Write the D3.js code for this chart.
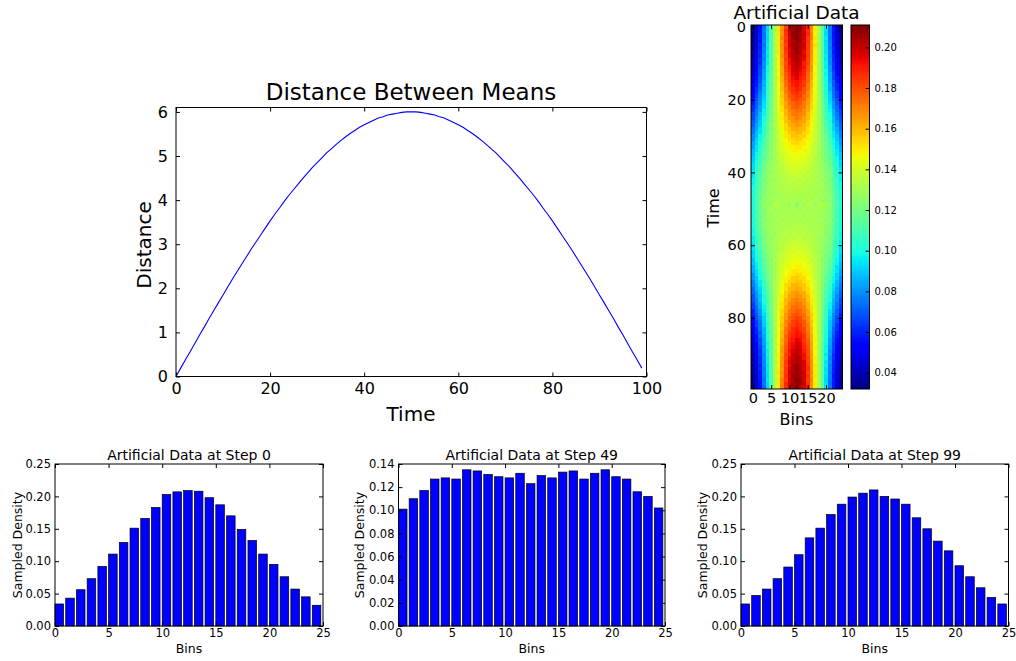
<!DOCTYPE html>
<html>
<head>
<meta charset="utf-8">
<script src="https://cdn.jsdelivr.net/npm/d3@7"></script>
<style>
  body { margin: 0; background: #fff; }
  svg { font-family: "DejaVu Sans", sans-serif; }
</style>
</head>
<body>
<svg id="fig" width="1016" height="661"></svg>
<script>
// distance between the two means, one value per time step (0..99)
const distance = [
  0, 0.19, 0.38, 0.56, 0.75, 0.94, 1.12, 1.31, 1.49, 1.67, 1.85, 2.03, 2.21, 2.38, 2.55, 2.72, 2.89, 3.05, 3.21, 3.37,
  3.53, 3.68, 3.82, 3.97, 4.11, 4.24, 4.37, 4.50, 4.62, 4.74, 4.85, 4.96, 5.07, 5.16, 5.26, 5.35, 5.43, 5.51, 5.58, 5.65,
  5.71, 5.76, 5.81, 5.86, 5.89, 5.93, 5.95, 5.97, 5.99, 6.00,
  6.00, 6.00, 5.99, 5.97, 5.95, 5.93, 5.89, 5.86, 5.81, 5.76, 5.71, 5.65, 5.58, 5.51, 5.43, 5.35, 5.26, 5.16, 5.07, 4.96,
  4.85, 4.74, 4.62, 4.50, 4.37, 4.24, 4.11, 3.97, 3.82, 3.68, 3.53, 3.37, 3.21, 3.05, 2.89, 2.72, 2.55, 2.38, 2.21, 2.03,
  1.85, 1.67, 1.49, 1.31, 1.12, 0.94, 0.75, 0.56, 0.38, 0.19
];

// sampled density per bin (25 bins) at three time steps
const step0 = [0.034, 0.043, 0.056, 0.073, 0.092, 0.111, 0.129, 0.151, 0.166, 0.183, 0.203, 0.207, 0.209,
  0.208, 0.198, 0.187, 0.170, 0.149, 0.132, 0.111, 0.095, 0.076, 0.057, 0.045, 0.032];
const step49 = [0.101, 0.110, 0.117, 0.127, 0.128, 0.127, 0.135, 0.134, 0.131, 0.129, 0.128, 0.132, 0.123,
  0.130, 0.128, 0.133, 0.134, 0.127, 0.132, 0.135, 0.129, 0.127, 0.116, 0.112, 0.102];
const step99 = [0.034, 0.047, 0.057, 0.073, 0.091, 0.110, 0.136, 0.151, 0.172, 0.188, 0.199, 0.205, 0.210,
  0.200, 0.196, 0.188, 0.167, 0.150, 0.131, 0.116, 0.093, 0.076, 0.059, 0.044, 0.034];

// artificial data: rows = time 0..99, columns = bins 0..24 (density x 1000)
const heatRows = [
  [34,43,56,73,92,111,129,151,166,183,203,207,209,208,198,187,170,149,132,111,95,76,57,45,32],
  [35,44,57,76,91,113,130,152,168,187,201,205,211,207,197,187,168,150,134,111,94,74,59,44,33],
  [33,46,58,74,94,110,133,151,167,185,200,207,208,204,199,188,170,149,131,113,92,76,57,46,35],
  [36,45,59,75,92,114,130,149,170,184,197,206,210,203,198,184,171,151,130,111,95,74,58,47,34],
  [34,47,57,77,93,111,132,151,166,186,198,203,207,206,196,186,167,149,133,112,93,76,59,45,36],
  [37,46,60,75,95,113,129,150,169,183,198,205,206,203,199,184,168,152,130,113,94,77,58,48,35],
  [35,48,59,77,93,112,133,149,167,186,195,204,208,202,197,185,166,150,132,112,95,75,61,46,37],
  [38,47,61,76,96,112,130,151,166,184,196,201,207,203,194,182,168,149,131,114,94,78,59,49,36],
  [37,50,60,79,94,114,132,148,168,182,195,202,203,200,196,184,166,150,130,112,96,77,62,48,39],
  [40,49,63,77,97,112,130,150,165,183,192,201,205,199,194,181,167,148,132,114,95,79,61,51,38],
  [41,52,62,80,95,115,130,148,166,180,193,197,203,199,190,182,164,150,131,113,97,78,64,50,39],
  [41,54,65,79,98,113,132,147,164,181,190,198,201,196,192,179,166,147,130,115,96,81,63,52,43],
  [44,53,67,82,97,115,130,149,163,180,188,196,199,194,190,178,165,147,132,113,99,80,65,55,42],
  [44,56,66,83,99,114,132,146,164,178,187,195,198,193,189,176,162,148,130,116,97,83,68,54,46],
  [47,56,69,83,100,116,130,148,161,177,185,193,196,191,187,175,163,146,132,114,100,83,67,58,45],
  [47,59,69,86,99,117,132,145,162,174,186,191,192,189,184,176,160,147,130,117,101,84,71,57,49],
  [51,59,72,85,102,115,130,147,159,174,182,189,192,187,184,172,161,145,132,115,100,87,70,61,49],
  [50,63,72,88,101,118,132,144,160,171,182,185,190,187,180,173,158,146,130,118,103,86,74,61,52],
  [54,63,76,88,104,116,130,146,157,171,178,185,187,183,180,169,159,144,132,116,102,90,74,65,52],
  [54,67,77,89,105,117,132,143,158,168,178,181,185,183,176,170,156,145,130,119,103,91,75,65,56],
  [58,67,79,91,106,119,130,145,155,168,174,181,183,179,176,166,157,143,132,117,106,91,77,69,56],
  [58,71,79,94,105,120,132,142,156,164,174,176,180,178,172,166,154,144,130,120,105,94,81,69,60],
  [62,71,83,94,108,118,130,144,153,165,170,176,178,174,172,163,155,142,132,118,108,96,81,73,60],
  [63,75,83,97,107,121,132,141,153,161,170,172,175,174,168,163,151,143,130,121,107,97,85,73,65],
  [67,75,87,97,110,119,130,142,150,161,166,172,173,170,168,159,152,140,132,119,110,99,85,77,65],
  [67,79,87,101,109,122,132,140,151,158,166,167,171,169,164,160,149,142,130,122,109,101,89,77,69],
  [71,79,90,100,112,120,130,141,148,158,162,167,168,165,164,156,150,139,132,120,112,100,88,81,69],
  [71,83,90,104,111,123,132,139,149,154,162,163,166,165,160,156,147,141,130,123,111,104,92,81,73],
  [75,83,94,103,114,121,130,140,145,154,157,162,163,160,159,152,147,138,132,121,114,103,92,85,73],
  [75,87,94,107,114,124,132,137,146,151,157,158,161,160,155,153,144,139,130,124,114,107,96,85,77],
  [79,87,98,106,117,122,130,139,143,151,153,158,158,156,155,149,145,137,132,122,117,106,96,89,77],
  [79,91,98,110,116,125,131,136,144,147,153,154,156,156,151,149,142,138,129,125,116,110,100,89,81],
  [83,91,101,109,119,123,129,138,141,148,149,153,154,151,151,146,143,136,131,123,119,109,99,93,81],
  [83,95,101,113,118,126,131,135,142,144,149,149,151,151,147,146,140,137,129,126,118,113,103,93,85],
  [87,94,105,112,121,124,129,137,139,145,146,149,149,147,148,143,141,135,131,124,121,112,103,96,85],
  [87,98,104,115,119,127,131,134,140,141,146,145,147,147,144,143,138,136,129,127,119,115,106,96,89],
  [90,98,108,114,122,125,129,136,137,142,142,145,145,143,144,140,139,134,131,125,122,114,106,100,88],
  [90,101,107,118,121,128,131,133,138,139,143,142,143,144,141,141,136,135,129,128,121,118,109,99,92],
  [93,101,110,117,124,126,129,135,135,139,139,142,142,140,141,137,137,133,131,126,124,117,108,103,91],
  [93,104,110,120,123,128,131,132,136,136,140,139,140,141,138,138,134,134,129,128,123,120,112,102,95],
  [96,103,113,119,125,127,129,134,134,137,136,139,139,137,138,135,136,132,131,127,125,119,111,105,94],
  [95,106,112,122,124,129,131,132,135,134,137,136,137,138,135,136,133,134,129,129,124,122,114,104,97],
  [98,105,115,120,126,127,129,133,132,135,134,137,136,135,136,133,134,131,131,127,126,120,113,107,96],
  [97,108,114,123,125,130,131,131,134,133,135,134,135,136,133,135,132,133,129,130,125,123,116,106,99],
  [100,107,116,122,127,128,129,133,131,134,132,135,134,133,134,132,133,131,131,128,127,122,114,109,98],
  [99,110,115,124,126,130,131,130,133,131,134,132,133,134,132,133,131,132,129,130,126,124,117,108,101],
  [101,108,118,123,128,128,129,132,131,133,131,133,132,131,133,131,133,130,131,128,128,123,116,110,99],
  [100,111,116,125,126,130,131,130,132,131,133,130,132,132,131,133,130,132,129,130,126,125,118,109,102],
  [102,109,118,123,128,128,129,132,130,132,130,132,131,130,132,130,132,130,131,128,128,123,116,111,100],
  [101,110,117,127,128,127,135,134,131,129,128,132,123,130,128,133,134,127,132,135,129,127,116,112,102],
  [100,111,116,126,127,131,129,132,130,132,130,132,131,130,132,130,132,130,131,129,128,124,118,109,102],
  [102,109,118,124,128,129,131,130,132,131,132,130,131,132,130,131,132,131,130,129,127,125,117,110,100],
  [100,111,116,123,128,128,131,130,132,130,132,130,131,132,130,132,130,132,129,128,128,123,118,109,102],
  [102,109,118,125,126,130,129,132,130,133,131,132,132,130,133,131,132,130,131,130,126,125,116,111,100],
  [99,110,116,123,128,128,131,130,133,131,133,131,132,133,131,133,131,132,129,128,128,123,118,108,101],
  [101,108,117,124,126,130,129,132,131,133,132,134,133,132,134,131,133,130,131,130,126,124,115,110,99],
  [98,109,114,122,127,128,131,131,133,132,134,133,134,135,132,134,131,133,129,128,127,122,116,107,100],
  [99,106,116,123,125,130,129,133,132,135,133,136,135,134,135,133,134,131,131,130,125,123,114,108,97],
  [96,107,113,120,126,127,131,131,134,133,136,135,136,137,134,135,132,133,129,127,126,120,115,105,98],
  [97,104,114,122,124,129,129,134,133,136,135,138,137,136,137,134,135,132,131,129,124,122,112,106,95],
  [94,105,111,119,125,127,131,132,136,135,138,137,139,139,136,137,134,134,129,127,125,119,113,103,96],
  [95,102,112,120,123,128,129,134,134,138,138,141,140,139,140,136,136,132,131,128,123,120,110,104,93],
  [91,103,108,117,124,126,131,133,137,137,141,140,142,142,139,139,135,135,129,126,124,117,110,101,93],
  [92,99,109,118,121,128,129,135,136,141,141,144,143,142,143,139,138,133,131,128,121,118,107,101,90],
  [88,100,106,114,122,125,131,134,139,140,144,143,145,145,142,142,137,136,129,125,122,114,108,98,90],
  [89,96,106,115,119,127,129,136,138,143,144,147,147,145,146,141,140,134,131,127,119,115,104,98,87],
  [85,96,103,112,121,124,131,135,141,143,148,147,149,149,146,145,139,137,129,124,121,112,105,94,87],
  [85,93,103,113,118,126,129,137,140,146,147,151,151,149,149,144,142,135,131,126,118,113,101,95,83],
  [81,93,99,109,119,123,131,136,143,146,151,151,154,153,149,148,141,138,129,123,119,109,101,91,83],
  [81,89,100,110,116,125,129,138,142,149,151,156,156,154,153,147,144,136,131,125,116,110,98,91,79],
  [77,89,96,106,117,122,132,137,145,149,155,156,158,158,153,151,143,139,130,122,117,106,98,87,79],
  [77,85,96,107,114,124,130,139,144,153,155,160,161,158,157,151,146,137,132,124,114,107,94,87,75],
  [73,85,92,103,114,121,132,138,147,152,159,160,163,162,157,154,145,140,130,121,114,103,94,83,75],
  [73,81,92,104,111,123,130,141,147,156,160,165,166,163,162,154,149,139,132,123,111,104,90,83,71],
  [69,81,88,100,112,120,132,139,150,156,164,165,168,167,162,158,148,141,130,120,112,100,90,79,71],
  [69,77,89,101,109,122,130,142,149,160,164,169,171,167,166,158,151,140,132,122,109,101,87,79,67],
  [65,77,85,99,110,119,132,140,152,159,168,170,173,172,166,161,150,142,130,119,110,97,87,75,67],
  [65,73,85,97,107,121,130,143,151,163,168,174,175,172,170,161,153,141,132,121,107,97,83,75,63],
  [60,73,81,96,108,118,132,142,155,163,172,174,178,176,170,165,153,144,130,118,108,94,83,71,62],
  [60,69,81,94,105,120,130,144,154,166,172,178,180,176,174,164,156,142,132,120,105,94,79,71,58],
  [56,69,77,91,106,117,132,143,157,166,176,179,183,181,174,168,155,145,130,119,106,91,79,67,58],
  [56,65,75,91,103,119,130,145,156,170,176,183,185,181,178,168,158,143,132,117,105,89,77,67,54],
  [52,65,74,90,102,116,132,144,159,169,180,183,187,185,178,171,157,146,130,116,104,88,76,63,54],
  [52,61,74,86,103,118,130,146,158,173,180,187,190,185,182,171,160,144,132,118,101,88,72,63,50],
  [49,61,70,87,100,115,132,145,161,172,184,187,192,189,182,174,159,147,130,115,102,85,72,59,51],
  [49,57,71,84,101,117,130,147,160,176,184,189,192,191,186,174,162,145,132,117,99,86,69,59,47],
  [45,58,67,83,100,114,132,146,163,175,187,191,196,193,185,177,161,148,130,116,100,83,69,56,47],
  [46,54,68,83,97,116,130,148,162,176,189,193,198,195,187,178,164,146,132,114,99,83,66,56,44],
  [42,55,65,80,99,113,132,147,165,178,190,194,199,196,188,180,163,149,130,115,97,82,67,53,44],
  [43,52,63,81,96,115,130,147,166,179,192,196,201,198,190,181,164,147,132,113,98,79,65,54,41],
  [39,50,64,78,97,113,131,150,164,182,190,199,203,197,193,180,166,148,130,115,95,80,62,52,41],
  [38,51,61,79,95,114,132,148,167,181,194,199,205,201,192,183,165,150,130,112,97,77,63,49,40],
  [39,48,62,77,96,112,130,150,166,184,196,200,203,202,195,182,168,148,132,114,94,79,60,50,37],
  [36,49,59,78,94,114,131,149,168,182,194,203,207,201,196,184,166,151,130,112,96,76,61,47,38],
  [37,46,61,75,95,112,132,150,166,185,197,202,208,204,195,186,167,149,133,112,93,77,59,48,35],
  [35,48,58,77,94,113,130,152,168,184,199,203,206,205,198,183,169,150,129,113,95,75,60,46,37],
  [36,45,59,76,93,112,133,149,167,186,196,206,207,203,198,186,166,151,132,111,93,77,57,47,34],
  [34,47,58,74,95,111,130,151,171,184,198,203,210,206,197,184,170,149,130,114,92,75,59,45,36],
  [35,46,57,76,92,113,131,149,170,188,199,204,208,207,200,185,167,151,133,110,94,74,58,46,33],
  [34,47,57,73,91,110,136,151,172,188,199,205,210,200,196,188,167,150,131,116,93,76,59,44,34]
];

// tick labels
const timeTicks = [0, 20, 40, 60, 80, 100];
const distTicks = [0, 1, 2, 3, 4, 5, 6];
const heatTimeTicks = [0, 20, 40, 60, 80];
const heatBinTicks = [0, 5, 10, 15, 20];
const colorTicks = [0.04, 0.06, 0.08, 0.10, 0.12, 0.14, 0.16, 0.18, 0.20];
const binTicks = [0, 5, 10, 15, 20, 25];
const densTicksA = [0, 0.05, 0.10, 0.15, 0.20, 0.25];
const densTicksB = [0, 0.02, 0.04, 0.06, 0.08, 0.10, 0.12, 0.14];

const svg = d3.select("#fig");

// axes in the old matplotlib look: ticks inside on all four sides + black frame
function drawAxes(g, x, y, o) {
  const [xl, xr] = x.range();
  const [yb, yt] = y.range();
  const bottom = g.append("g").attr("transform", `translate(0,${yb})`)
    .call(d3.axisBottom(x).tickValues(o.xTicks).tickSize(-o.tick).tickSizeOuter(0)
      .tickPadding(o.xPad).tickFormat(o.xFmt || d3.format("d")));
  const left = g.append("g").attr("transform", `translate(${xl},0)`)
    .call(d3.axisLeft(y).tickValues(o.yTicks).tickSize(-o.tick).tickSizeOuter(0)
      .tickPadding(o.yPad).tickFormat(o.yFmt || d3.format("d")));
  g.append("g").attr("transform", `translate(0,${yt})`)
    .call(d3.axisTop(x).tickValues(o.xTicks).tickSize(-o.tick).tickSizeOuter(0).tickFormat(""));
  g.append("g").attr("transform", `translate(${xr},0)`)
    .call(d3.axisRight(y).tickValues(o.yTicks).tickSize(-o.tick).tickSizeOuter(0).tickFormat(""));
  g.selectAll(".domain").remove();
  g.selectAll(".tick line").attr("stroke", "#000");
  g.selectAll("g").attr("font-family", null).attr("font-size", null);
  bottom.selectAll("text").attr("font-size", o.font).attr("fill", "#000");
  left.selectAll("text").attr("font-size", o.font).attr("fill", "#000");
  g.append("rect")
    .attr("x", xl).attr("y", yt).attr("width", xr - xl).attr("height", yb - yt)
    .attr("fill", "none").attr("stroke", "#000").attr("stroke-width", 1);
}

function addText(g, txt, x, y, size, rotate) {
  const t = g.append("text").text(txt).attr("font-size", size)
    .attr("text-anchor", "middle").attr("fill", "#000");
  if (rotate) {
    t.attr("transform", `translate(${x},${y}) rotate(-90)`).attr("dy", "0.35em");
  } else {
    t.attr("x", x).attr("y", y);
  }
}

// ---- Distance Between Means ----
{
  const g = svg.append("g");
  const x = d3.scaleLinear().domain([0, 100]).range([176, 646.5]);
  const y = d3.scaleLinear().domain([0, 6.1]).range([376.5, 107.5]);
  const line = d3.line().x((d, i) => x(i)).y(d => y(d));
  g.append("path").datum(distance)
    .attr("d", line).attr("fill", "none").attr("stroke", "#0000ff").attr("stroke-width", 1.1);
  drawAxes(g, x, y, { xTicks: timeTicks, yTicks: distTicks, tick: 4, xPad: 6, yPad: 8, font: 16 });
  addText(g, "Distance Between Means", 411, 100, 23);
  addText(g, "Time", 411, 421, 20);
  addText(g, "Distance", 144, 245, 20, true);
}

// ---- Artificial Data heatmap + colorbar ----
{
  const g = svg.append("g");
  const x = d3.scaleLinear().domain([-0.5, 24.5]).range([751, 842.5]);
  const y = d3.scaleLinear().domain([99.5, -0.5]).range([389, 25]);
  const flat = heatRows.flat().map(v => v / 1000);
  const ext = d3.extent(flat);
  const norm = d3.scaleLinear().domain(ext).range([0, 1]).clamp(true);
  // matplotlib "jet" colormap segments
  const jetR = d3.scaleLinear().domain([0, 0.35, 0.66, 0.89, 1]).range([0, 0, 1, 1, 0.5]);
  const jetG = d3.scaleLinear().domain([0, 0.125, 0.375, 0.64, 0.91, 1]).range([0, 0, 1, 1, 0, 0]);
  const jetB = d3.scaleLinear().domain([0, 0.11, 0.34, 0.65, 1]).range([0.5, 1, 1, 0, 0]);
  const jet = v => { const t = norm(v); return d3.rgb(255 * jetR(t), 255 * jetG(t), 255 * jetB(t)).toString(); };

  const cells = [];
  heatRows.forEach((row, r) => row.forEach((v, c) => cells.push({ r, c, v: v / 1000 })));
  g.append("g").attr("shape-rendering", "crispEdges").selectAll("rect").data(cells).join("rect")
    .attr("x", d => x(d.c - 0.5)).attr("y", d => y(d.r - 0.5))
    .attr("width", d => x(d.c + 0.5) - x(d.c - 0.5) + 0.4)
    .attr("height", d => y(d.r + 0.5) - y(d.r - 0.5) + 0.4)
    .attr("fill", d => jet(d.v));
  drawAxes(g, x, y, { xTicks: heatBinTicks, yTicks: heatTimeTicks, tick: 4, xPad: 4, yPad: 5, font: 14.5 });
  addText(g, "Artificial Data", 796.5, 19, 18.5);
  addText(g, "Bins", 796.5, 425, 16);
  addText(g, "Time", 713, 208, 16, true);

  // colorbar
  const cb = svg.append("g");
  const cy = d3.scaleLinear().domain(ext).range([389, 25]);
  const steps = d3.range(0, 200).map(i => ext[0] + (ext[1] - ext[0]) * i / 200);
  const dv = (ext[1] - ext[0]) / 200;
  cb.append("g").attr("shape-rendering", "crispEdges").selectAll("rect").data(steps).join("rect")
    .attr("x", 851).attr("width", 18.5)
    .attr("y", d => cy(d + dv) - 0.3).attr("height", d => cy(d) - cy(d + dv) + 0.6)
    .attr("fill", d => jet(d + dv / 2));
  const ax = cb.append("g").attr("transform", "translate(869.5,0)")
    .call(d3.axisRight(cy).tickValues(colorTicks).tickSize(-4).tickSizeOuter(0).tickPadding(5)
      .tickFormat(d3.format(".2f")));
  ax.select(".domain").remove();
  ax.attr("font-family", null).attr("font-size", null);
  ax.selectAll(".tick line").attr("stroke", "#000");
  ax.selectAll("text").attr("font-size", 10).attr("fill", "#000");
  cb.append("rect").attr("x", 851).attr("y", 25).attr("width", 18.5).attr("height", 364)
    .attr("fill", "none").attr("stroke", "#000");
}

// ---- bar charts of single steps ----
function barChart(data, left, right, yMax, yTicks, title, yLabelX) {
  const g = svg.append("g");
  const x = d3.scaleLinear().domain([0, 25]).range([left, right]);
  const y = d3.scaleLinear().domain([0, yMax]).range([626, 464]);
  g.selectAll("rect.bar").data(data).join("rect").attr("class", "bar")
    .attr("x", (d, i) => x(i)).attr("width", x(0.8) - x(0))
    .attr("y", d => y(d)).attr("height", d => y(0) - y(d))
    .attr("fill", "#0000ff").attr("stroke", "#000").attr("stroke-width", 0.7);
  drawAxes(g, x, y, { xTicks: binTicks, yTicks: yTicks, tick: 4, xPad: 3, yPad: 4, font: 11.5,
    yFmt: d3.format(".2f") });
  addText(g, title, (left + right) / 2, 460, 14);
  addText(g, "Bins", (left + right) / 2, 653, 12.5);
  addText(g, "Sampled Density", yLabelX, 545, 12.5, true);
}

barChart(step0, 55, 323, 0.25, densTicksA, "Artificial Data at Step 0", 18);
barChart(step49, 398.5, 665, 0.14, densTicksB, "Artificial Data at Step 49", 360);
barChart(step99, 741, 1008.5, 0.25, densTicksA, "Artificial Data at Step 99", 703);
</script>
</body>
</html>
